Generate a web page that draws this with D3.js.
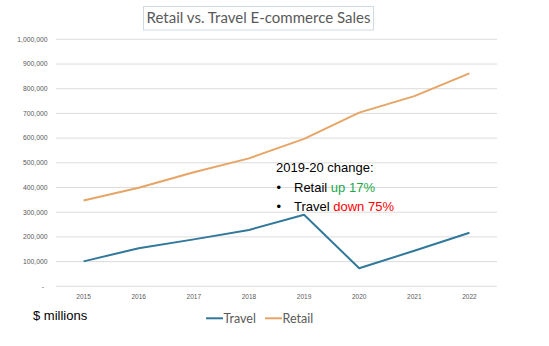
<!DOCTYPE html>
<html><head><meta charset="utf-8">
<script src="https://cdn.jsdelivr.net/npm/d3@7"></script>
<style>html,body{margin:0;padding:0;background:#fff;}svg{display:block;}</style>
</head><body>
<script>
const years = ["2015","2016","2017","2018","2019","2020","2021","2022"];
const travel = [101000,154000,190000,228000,290000,73000,144000,217000];
const retail = [347000,399000,462000,518000,597000,703000,770000,862000];
const yTicks = [0,100000,200000,300000,400000,500000,600000,700000,800000,900000,1000000];
const seriesNames = ["Travel","Retail"];
const seriesColors = ["#31789a","#e6a566"];
const titleText = "Retail vs. Travel E-commerce Sales";
const noteTitle = "2019-20 change:";
const noteLines = [["Retail ","up 17%","#22a84a"],["Travel ","down 75%","#ff0000"]];
const unitText = "$ millions";

const W=549,H=346;
const svg=d3.select("body").append("svg").attr("width",W).attr("height",H);
const x=d3.scaleBand().domain(years).range([56,497]);
const y=d3.scaleLinear().domain([0,1000000]).range([286.3,39.3]);

// gridlines
svg.append("g").selectAll("line").data(yTicks).join("line")
  .attr("x1",56).attr("x2",497).attr("y1",d=>y(d)).attr("y2",d=>y(d))
  .attr("stroke","#dcdcdc").attr("stroke-width",1);

// y axis labels
const fmt=d3.format(",");
svg.append("g").selectAll("text").data(yTicks).join("text")
  .attr("x",d=>d===0?44:47.5).attr("y",d=>y(d)+2.3).attr("text-anchor","end")
  .attr("font-family","Liberation Sans, Arial, sans-serif").attr("font-size",6.8).attr("fill","#595959")
  .text(d=>d===0?"-":fmt(d));

// x axis labels
svg.append("g").selectAll("text").data(years).join("text")
  .attr("x",d=>x(d)+x.bandwidth()/2).attr("y",299).attr("text-anchor","middle")
  .attr("font-family","Liberation Sans, Arial, sans-serif").attr("font-size",6.5).attr("fill","#595959")
  .text(d=>d);

const line=d3.line().x((d,i)=>x(years[i])+x.bandwidth()/2).y(d=>y(d));
[travel,retail].forEach((s,i)=>{
  svg.append("path").datum(s).attr("d",line).attr("fill","none")
    .attr("stroke",seriesColors[i]).attr("stroke-width",2).attr("stroke-linejoin","round");
});

// title box
svg.append("rect").attr("x",143.5).attr("y",6.5).attr("width",230).attr("height",23.5)
  .attr("fill","#fff").attr("stroke","#cfdbe2").attr("stroke-width",1);
const t=svg.append("text").attr("x",258.5).attr("y",23).attr("text-anchor","middle")
  .attr("font-family","Lato, Open Sans, sans-serif").attr("font-size",15.5).attr("fill","#595959").text(titleText);
const tw=t.node().getComputedTextLength();
t.attr("font-size",15.5*224/tw);

// annotation
const af="Liberation Sans, Arial, sans-serif";
svg.append("text").attr("x",276).attr("y",171.5).attr("font-family",af).attr("font-size",13).attr("fill","#000").text(noteTitle);
noteLines.forEach((l,i)=>{
  const yy=191.5+i*19.5;
  svg.append("text").attr("x",276.5).attr("y",yy).attr("font-family",af).attr("font-size",13).text("•");
  const tx=svg.append("text").attr("x",294).attr("y",yy).attr("font-family",af).attr("font-size",13);
  tx.append("tspan").attr("fill","#000").text(l[0]);
  tx.append("tspan").attr("fill",l[2]).text(l[1]);
});

// unit label
svg.append("text").attr("x",33).attr("y",319.5).attr("font-family",af).attr("font-size",13).attr("fill","#000").text(unitText);

// legend
const lg=[{x1:206,x2:223,tx:223.5},{x1:265,x2:282,tx:282.5}];
seriesNames.forEach((n,i)=>{
  svg.append("line").attr("x1",lg[i].x1).attr("x2",lg[i].x2).attr("y1",318.3).attr("y2",318.3)
    .attr("stroke",seriesColors[i]).attr("stroke-width",2);
  svg.append("text").attr("x",lg[i].tx).attr("y",322.8).attr("font-family","Lato, Open Sans, sans-serif")
    .attr("font-size",12.5).attr("fill","#595959").text(n);
});
</script>
</body></html>
